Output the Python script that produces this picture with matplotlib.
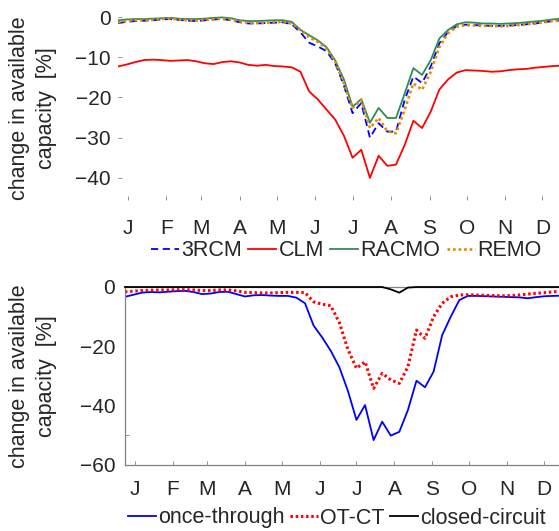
import numpy as np
import matplotlib.pyplot as plt

plt.rcParams['font.family'] = ['Liberation Sans', 'DejaVu Sans']

# weekly values, day of year
days = np.arange(52) * 7
months = ['J', 'F', 'M', 'A', 'M', 'J', 'J', 'A', 'S', 'O', 'N', 'D']
month_pos = [8, 39, 67, 98, 128, 159, 189, 220, 251, 281, 312, 342]

rcm3 = [-1.5, -1.2, -1.0, -0.9, -0.8, -0.6, -0.5, -0.7, -0.9, -1.0, -0.8, -0.6, -0.5, -0.8,
        -1.3, -1.6, -1.6, -1.5, -1.4, -1.3, -1.8, -3.8, -6.4, -7.3, -8.5, -11.5, -17.0,
        -23.9, -21.4, -30.0, -26.4, -28.5, -28.5, -20.6, -14.8, -16.4, -12.3, -6.5, -3.7,
        -2.2, -1.9, -2.0, -2.1, -2.2, -2.2, -2.1, -2.0, -1.8, -1.6, -1.3, -1.0, -0.8]
clm = [-12.3, -11.8, -11.2, -10.7, -10.6, -10.7, -10.9, -10.8, -10.7, -11.0, -11.5, -11.7,
       -11.2, -11.0, -11.3, -11.9, -12.1, -11.9, -12.2, -12.3, -12.5, -13.6, -18.5, -20.5,
       -23.0, -25.5, -29.5, -35.0, -33.0, -40.0, -34.5, -37.0, -36.7, -31.8, -25.8, -27.6,
       -23.5, -18.0, -15.5, -13.8, -13.2, -13.3, -13.4, -13.6, -13.5, -13.2, -13.0, -12.9,
       -12.6, -12.4, -12.2, -12.1]
racmo = [-0.8, -0.6, -0.5, -0.5, -0.4, -0.3, -0.2, -0.4, -0.5, -0.5, -0.4, -0.2, -0.1, -0.3,
         -0.8, -1.0, -1.0, -0.9, -0.8, -0.8, -1.2, -3.2, -4.5, -5.8, -7.5, -10.8, -15.5,
         -22.3, -20.4, -26.3, -22.6, -25.1, -25.1, -19.0, -12.7, -14.4, -10.7, -5.3, -3.2,
         -1.8, -1.3, -1.4, -1.6, -1.6, -1.7, -1.6, -1.5, -1.3, -1.1, -0.9, -0.6, -0.4]
remo = [-1.3, -1.0, -0.8, -0.8, -0.7, -0.5, -0.4, -0.6, -0.8, -0.9, -0.7, -0.5, -0.4, -0.6,
        -1.1, -1.4, -1.5, -1.4, -1.3, -1.2, -1.6, -3.2, -5.0, -6.2, -7.8, -11.0, -16.5,
        -22.6, -20.6, -27.6, -25.1, -28.4, -28.9, -23.0, -16.5, -18.1, -13.6, -7.4, -4.0,
        -2.4, -2.0, -2.1, -2.2, -2.2, -2.3, -2.2, -2.0, -1.8, -1.6, -1.3, -1.0, -0.8]

once_through = [-3.3, -2.6, -1.9, -1.7, -1.8, -1.6, -1.4, -1.3, -1.7, -2.4, -2.2, -1.7, -1.6,
                -2.4, -3.2, -2.8, -2.7, -2.9, -3.0, -3.0, -3.6, -5.5, -13.0, -17.0, -21.5,
                -27.0, -35.0, -44.8, -39.8, -51.6, -45.4, -50.1, -48.8, -41.5, -31.6, -33.8,
                -28.5, -16.2, -10.0, -4.4, -3.0, -3.0, -3.1, -3.2, -3.3, -3.4, -3.5, -3.8,
                -3.4, -3.1, -3.0, -2.9]
ot_ct = [-1.6, -1.4, -1.2, -1.1, -1.0, -1.0, -0.9, -0.9, -1.0, -1.2, -1.2, -1.0, -1.0, -1.3,
         -1.8, -1.9, -2.0, -2.0, -1.9, -1.8, -1.8, -1.9, -5.0, -5.8, -6.3, -12.0, -21.0,
         -27.4, -25.2, -34.2, -29.1, -31.3, -32.5, -26.9, -14.5, -17.3, -10.0, -5.5, -3.3,
         -2.7, -2.6, -2.7, -2.8, -2.9, -3.0, -2.9, -2.7, -2.4, -2.1, -1.9, -1.6, -1.5]
closed_circuit = [0.0] * 31 + [-0.8, -1.9, -0.2] + [0.0] * 18

W, H = 559, 531
txt = '#262626'
grey = '#808080'

fig = plt.figure(figsize=(W / 100, H / 100), dpi=100)

# top panel
ax1 = fig.add_axes([118 / W, (H - 200) / H, 453 / W, 191 / H])
ax1.plot(days, rcm3, color='#0000FF', lw=1.3, ls=(0, (4, 2.5)), label='3RCM')
ax1.plot(days, clm, color='#FF0000', lw=1.3, label='CLM')
ax1.plot(days, racmo, color='#2E8B57', lw=1.3, label='RACMO')
ax1.plot(days, remo, color='#E08A00', lw=1.9, ls=(0, (1, 1.1)), label='REMO')
ax1.set_xlim(0, 365)
ax1.set_ylim(-45.5, 2)
ax1.set_yticks([-40, -30, -20, -10, 0])
ax1.set_xticks(month_pos)
ax1.set_xticklabels(months)
for s in ax1.spines.values():
    s.set_visible(False)
ax1.tick_params(axis='both', direction='in', length=3, width=0.6, color=grey,
                labelsize=15, labelcolor=txt)
ax1.tick_params(axis='x', pad=14)
ax1.tick_params(axis='y', pad=5)
ax1.legend(loc='center', bbox_to_anchor=(346 / W, 1 - 251 / H), bbox_transform=fig.transFigure,
           ncol=4, frameon=False, fontsize=15.5, handlelength=1.3, handletextpad=0.1,
           columnspacing=0.3, borderpad=0, labelcolor=txt)

# bottom panel
ax2 = fig.add_axes([125 / W, (H - 465) / H, 447 / W, 178 / H])
ax2.plot(days, once_through, color='#0000FF', lw=1.3, label='once-through')
ax2.plot(days, ot_ct, color='#FF0000', lw=2.2, ls=(0, (0.8, 0.9)), label='OT-CT')
ax2.plot(days, closed_circuit, color='black', lw=1.3, label='closed-circuit',
         zorder=3, clip_on=False)
ax2.set_xlim(0, 365)
ax2.set_ylim(-60, 0)
ax2.set_yticks([-60, -40, -20, 0])
ax2.set_yticks([-50], minor=True)
ax2.set_xticks(month_pos)
ax2.set_xticklabels(months)
for s in ax2.spines.values():
    s.set_color(grey)
    s.set_linewidth(0.9)
ax2.tick_params(axis='both', direction='in', length=3, width=0.6, color=grey,
                labelsize=15, labelcolor=txt)
ax2.tick_params(axis='y', which='major', length=0, pad=7)
ax2.tick_params(axis='y', which='minor', direction='in', length=3, width=0.6, color=grey)
ax2.tick_params(axis='x', pad=11)
ax2.legend(loc='center', bbox_to_anchor=(337 / W, 1 - 518 / H), bbox_transform=fig.transFigure,
           ncol=3, frameon=False, fontsize=15.5, handlelength=1.3, handletextpad=0.1,
           columnspacing=0.25, borderpad=0, labelcolor=txt)

ylab = 'change in available\ncapacity  [%]'
for yc in (108, 376):
    fig.text(33 / W, 1 - yc / H, ylab, rotation=90, ha='center', va='center',
             multialignment='center', fontsize=15.5, color=txt, linespacing=1.35)

fig.savefig('out.png', dpi=100)
